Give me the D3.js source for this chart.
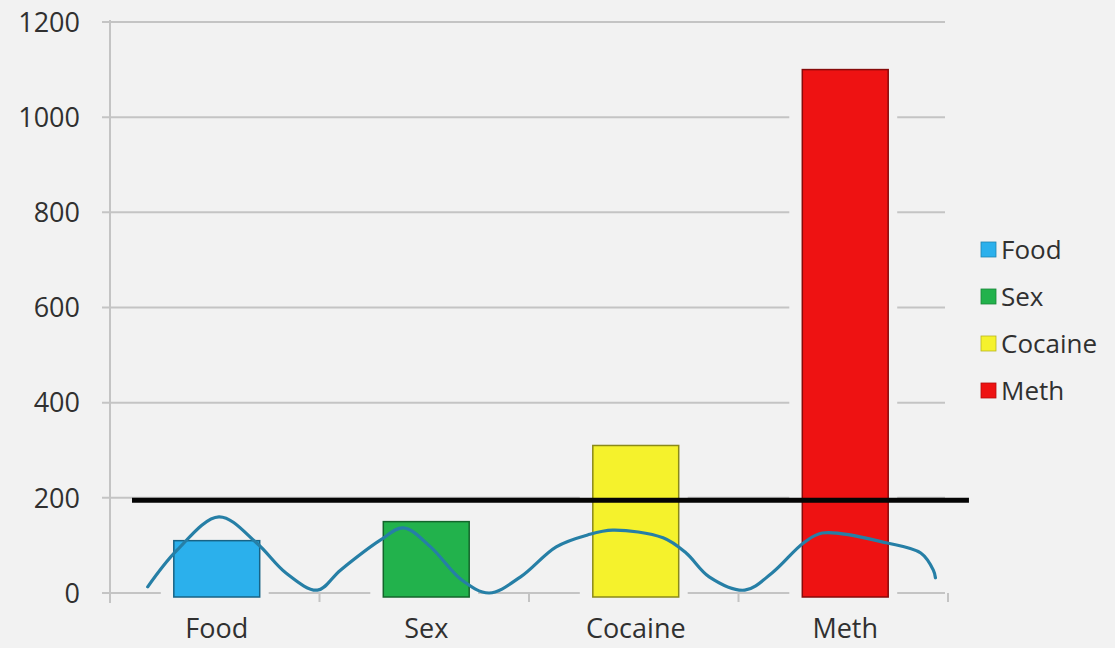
<!DOCTYPE html>
<html>
<head>
<meta charset="utf-8">
<script src="https://cdn.jsdelivr.net/npm/d3@7"></script>
<style>
  html, body { margin: 0; padding: 0; background: #f2f2f2; }
  svg { display: block; }
  text { font-family: "Open Sans", sans-serif; fill: #303030; }
</style>
</head>
<body>
<script>
const width = 1115
const height = 648

// bars
const categories = ['Food', 'Sex', 'Cocaine', 'Meth']
const values = [110, 150, 310, 1100]
const colors = ['#2bb0ec', '#22b24c', '#f5f22c', '#ee1212']

// y axis ticks
const yTicks = [0, 200, 400, 600, 800, 1000, 1200]

// black threshold line (value)
const threshold = 195

// wavy line: x in category units (0 = left edge, 4 = right edge), y in value units
const waveX = [0.18, 0.32, 0.52, 0.70, 0.84, 0.99, 1.10, 1.29, 1.40, 1.53, 1.68, 1.81, 1.96, 2.13, 2.28, 2.40, 2.64, 2.75, 2.86, 3.03, 3.16, 3.31, 3.40, 3.71, 3.87, 3.93, 3.94]
const waveY = [13, 90, 160, 105, 42, 6, 48, 111, 137, 97, 27, 0, 34, 97, 122, 132, 116, 84, 34, 6, 42, 105, 126, 105, 84, 48, 32]

const margin = { left: 110, right: 167, top: 22, bottom: 55 }

const x = d3.scaleBand()
  .domain(categories)
  .range([margin.left, width - margin.right])
  .paddingInner(0.59)
  .paddingOuter(0.295)

const xLin = d3.scaleLinear()
  .domain([0, 4])
  .range([margin.left, width - margin.right])

const y = d3.scaleLinear()
  .domain([0, 1200])
  .range([height - margin.bottom, margin.top])

const svg = d3.select('body').append('svg')
  .attr('width', width)
  .attr('height', height)

svg.append('rect')
  .attr('width', width).attr('height', height)
  .attr('fill', '#f2f2f2')

// gridlines (with little ticks left of the axis)
svg.append('g')
  .selectAll('line')
  .data(yTicks)
  .enter().append('line')
  .attr('x1', margin.left - 8)
  .attr('x2', width - margin.right - 3)
  .attr('y1', d => y(d))
  .attr('y2', d => y(d))
  .attr('stroke', '#c4c4c4')
  .attr('stroke-width', 2)

// y labels
svg.append('g')
  .selectAll('text')
  .data(yTicks)
  .enter().append('text')
  .attr('x', 80)
  .attr('y', d => y(d))
  .attr('dy', '0.36em')
  .attr('text-anchor', 'end')
  .style('font-size', '27px')
  .text(d => d)

// vertical axis line
svg.append('line')
  .attr('x1', margin.left).attr('x2', margin.left)
  .attr('y1', y(1200) - 2).attr('y2', y(0) + 10)
  .attr('stroke', '#c4c4c4')
  .attr('stroke-width', 2)

// category boundary ticks on the baseline
svg.append('g')
  .selectAll('line')
  .data(d3.range(5))
  .enter().append('line')
  .attr('x1', d => xLin(d)).attr('x2', d => xLin(d))
  .attr('y1', y(0)).attr('y2', y(0) + 9)
  .attr('stroke', '#c4c4c4')
  .attr('stroke-width', 2)

// background halo round each bar (gridlines are cut there in the picture)
svg.append('g')
  .selectAll('rect')
  .data(values)
  .enter().append('rect')
  .attr('x', (d, i) => x(categories[i]) - 11)
  .attr('width', x.bandwidth() + 22)
  .attr('y', d => y(d) - 8)
  .attr('height', d => y(0) - y(d) + 16)
  .attr('fill', '#f2f2f2')

// bars
svg.append('g')
  .selectAll('rect')
  .data(values)
  .enter().append('rect')
  .attr('x', (d, i) => x(categories[i]) + 2)
  .attr('width', x.bandwidth())
  .attr('y', d => y(d))
  .attr('height', d => y(0) - y(d) + 4)
  .attr('fill', (d, i) => colors[i])
  .attr('stroke', (d, i) => d3.rgb(colors[i]).darker(1.6))
  .attr('stroke-width', 1.5)

// threshold line
svg.append('line')
  .attr('x1', xLin(0.105)).attr('x2', xLin(4.1))
  .attr('y1', y(threshold)).attr('y2', y(threshold))
  .attr('stroke', '#050505')
  .attr('stroke-width', 5)

// wavy line
const wave = d3.line()
  .x(d => xLin(d[0]))
  .y(d => y(d[1]))
  .curve(d3.curveCatmullRom.alpha(0.5))

svg.append('path')
  .datum(waveX.map((v, i) => [v, waveY[i]]))
  .attr('d', wave)
  .attr('fill', 'none')
  .attr('stroke', '#267fa6')
  .attr('stroke-width', 3.2)
  .attr('stroke-linecap', 'round')

// x labels
svg.append('g')
  .selectAll('text')
  .data(categories)
  .enter().append('text')
  .attr('x', d => x(d) + x.bandwidth() / 2 + 2)
  .attr('y', 638)
  .attr('text-anchor', 'middle')
  .style('font-size', '27px')
  .text(d => d)

// legend
const legend = svg.append('g')
  .selectAll('g')
  .data(categories)
  .enter().append('g')
  .attr('transform', (d, i) => `translate(981,${250 + i * 47})`)

legend.append('rect')
  .attr('x', 0).attr('y', -8)
  .attr('width', 15).attr('height', 15)
  .attr('fill', (d, i) => colors[i])
  .attr('stroke', (d, i) => d3.rgb(colors[i]).darker(0.8))
  .attr('stroke-width', 0.8)

legend.append('text')
  .attr('x', 20)
  .attr('dy', '0.36em')
  .style('font-size', '26px')
  .text(d => d)
</script>
</body>
</html>
